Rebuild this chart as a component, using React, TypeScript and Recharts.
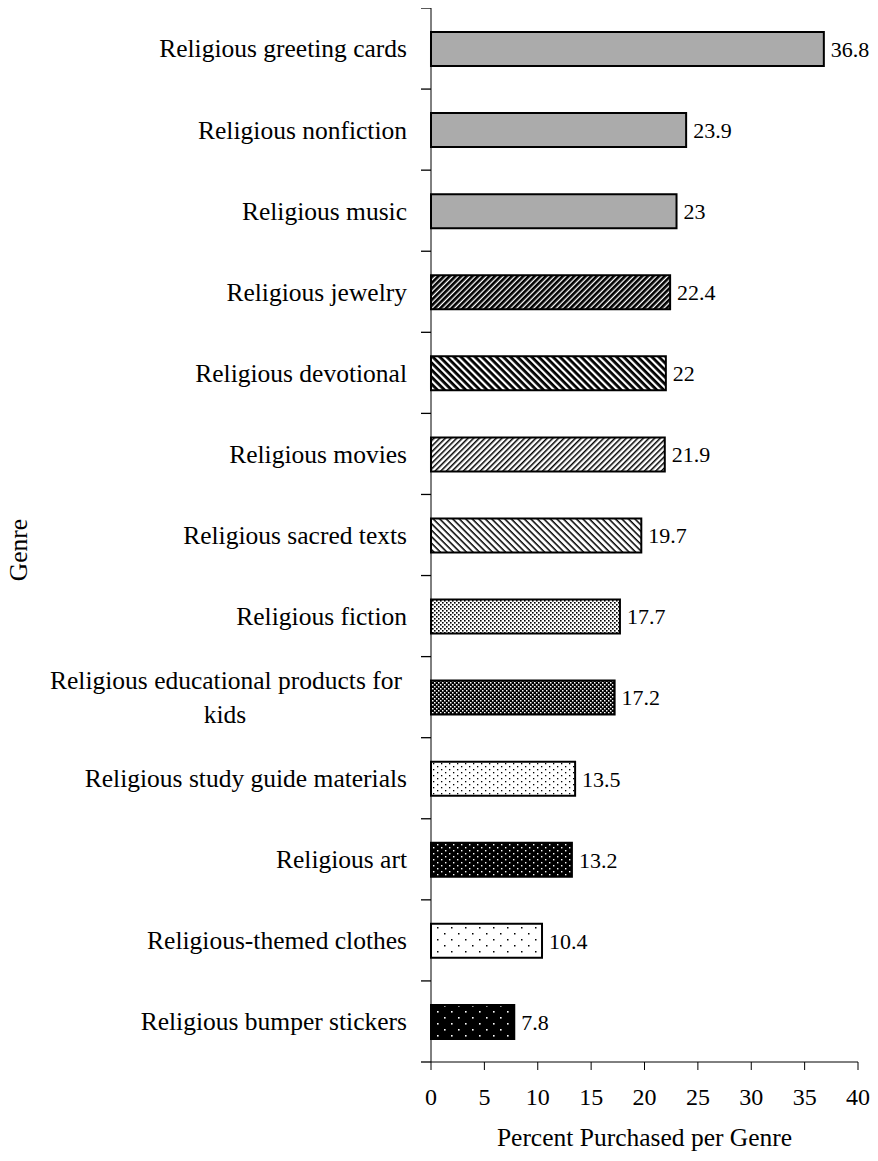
import { Bar, BarChart, Cell, LabelList, XAxis, YAxis } from "recharts"

const genres = [
    'Religious greeting cards',
    'Religious nonfiction',
    'Religious music',
    'Religious jewelry',
    'Religious devotional',
    'Religious movies',
    'Religious sacred texts',
    'Religious fiction',
    'Religious educational products for kids',
    'Religious study guide materials',
    'Religious art',
    'Religious-themed clothes',
    'Religious bumper stickers',
]
const percents = [36.8, 23.9, 23, 22.4, 22, 21.9, 19.7, 17.7, 17.2, 13.5, 13.2, 10.4, 7.8]
const fills = ['gray', 'gray', 'gray', 'jewel', 'devo', 'movie', 'sacred', 'fict', 'edu', 'study', 'art', 'cloth', 'bump']
const xTicks = [0, 5, 10, 15, 20, 25, 30, 35, 40]

const data = genres.map((name, i) => ({ name, value: percents[i], fill: fills[i] }))

const W = 878
const H = 1161
const M = { top: 8, right: 20, left: 0, bottom: 0 }
const Y_W = 431
const X_H = 99
const FONT = '"Liberation Serif", "Times New Roman", serif'
const band = (H - M.top - M.bottom - X_H) / genres.length

function GenreTick(props: any) {
    const { x, y, payload, index } = props
    const words: string = payload.value
    const lines = words === 'Religious educational products for kids'
        ? ['Religious educational products for', 'kids']
        : [words]
    return (
        <g>
            <line x1={x - 10} x2={x} y1={y - band / 2} y2={y - band / 2} stroke="#000" strokeWidth={1.3} />
            {index === genres.length - 1 && (
                <line x1={x - 10} x2={x} y1={y + band / 2} y2={y + band / 2} stroke="#000" strokeWidth={1.3} />
            )}
            {lines.length === 1 ? (
                <text x={x - 24} y={y} dy="0.35em" textAnchor="end" fontFamily={FONT} fontSize={25.5} fill="#000">
                    {lines[0]}
                </text>
            ) : (
                <g>
                    <text x={x - 29} y={y - 17} dy="0.35em" textAnchor="end" fontFamily={FONT} fontSize={25.5} fill="#000">
                        {lines[0]}
                    </text>
                    <text x={225} y={y + 17} dy="0.35em" textAnchor="middle" fontFamily={FONT} fontSize={25.5} fill="#000">
                        {lines[1]}
                    </text>
                </g>
            )}
        </g>
    )
}

export default function App() {
    return (
        <div style={{ margin: -8, background: '#fff', width: W, height: H }}>
            <BarChart width={W} height={H} data={data} layout="vertical" margin={M} style={{ overflow: 'visible' }}>
                <defs>
                    <pattern id="jewel" width="4" height="4" patternUnits="userSpaceOnUse" patternTransform="rotate(-45)">
                        <rect width="4" height="4" fill="#fff" />
                        <rect width="4" height="2.7" fill="#000" />
                    </pattern>
                    <pattern id="devo" width="5" height="5" patternUnits="userSpaceOnUse" patternTransform="rotate(45)">
                        <rect width="5" height="5" fill="#fff" />
                        <rect width="5" height="2.8" fill="#000" />
                    </pattern>
                    <pattern id="movie" width="4" height="4" patternUnits="userSpaceOnUse" patternTransform="rotate(-45)">
                        <rect width="4" height="4" fill="#fff" />
                        <rect width="4" height="1.5" fill="#000" />
                    </pattern>
                    <pattern id="sacred" width="4.6" height="4.6" patternUnits="userSpaceOnUse" patternTransform="rotate(45)">
                        <rect width="4.6" height="4.6" fill="#fff" />
                        <rect width="4.6" height="1.5" fill="#000" />
                    </pattern>
                    <pattern id="fict" width="4" height="4" patternUnits="userSpaceOnUse">
                        <rect width="4" height="4" fill="#fff" />
                        <rect x="0" y="0" width="1.6" height="1.6" fill="#000" />
                        <rect x="2" y="2" width="1.6" height="1.6" fill="#000" />
                    </pattern>
                    <pattern id="edu" width="4" height="4" patternUnits="userSpaceOnUse">
                        <rect width="4" height="4" fill="#000" />
                        <rect x="0" y="0" width="1.5" height="1.5" fill="#fff" />
                        <rect x="2" y="2" width="1.5" height="1.5" fill="#fff" />
                    </pattern>
                    <pattern id="study" width="8" height="6" patternUnits="userSpaceOnUse">
                        <rect width="8" height="6" fill="#fff" />
                        <rect x="1" y="1" width="1.3" height="1.3" fill="#000" />
                        <rect x="5" y="4" width="1.3" height="1.3" fill="#000" />
                    </pattern>
                    <pattern id="art" width="8" height="6" patternUnits="userSpaceOnUse">
                        <rect width="8" height="6" fill="#000" />
                        <rect x="1" y="1" width="1.4" height="1.4" fill="#fff" />
                        <rect x="5" y="4" width="1.4" height="1.4" fill="#fff" />
                    </pattern>
                    <pattern id="cloth" width="14" height="12" patternUnits="userSpaceOnUse">
                        <rect width="14" height="12" fill="#fff" />
                        <rect x="3" y="3" width="1.5" height="1.5" fill="#000" />
                        <rect x="10" y="9" width="1.5" height="1.5" fill="#000" />
                    </pattern>
                    <pattern id="bump" width="14" height="12" patternUnits="userSpaceOnUse">
                        <rect width="14" height="12" fill="#000" />
                        <rect x="3" y="3" width="1.6" height="1.6" fill="#fff" />
                        <rect x="10" y="9" width="1.6" height="1.6" fill="#fff" />
                    </pattern>
                </defs>
                <XAxis
                    type="number"
                    domain={[0, 40]}
                    ticks={xTicks}
                    height={X_H}
                    stroke="#000"
                    tickSize={8}
                    tickMargin={18}
                    tick={{ fill: '#000', fontSize: 24, fontFamily: FONT }}
                    label={{ value: 'Percent Purchased per Genre', position: 'insideBottom', offset: 15, fill: '#000', fontSize: 25.5, fontFamily: FONT }}
                />
                <YAxis
                    type="category"
                    dataKey="name"
                    width={Y_W}
                    stroke="#000"
                    tickLine={false}
                    tickSize={0}
                    tickMargin={0}
                    interval={0}
                    tick={<GenreTick />}
                    label={({ viewBox }: any) => (
                        <text
                            x={18}
                            y={viewBox.y + viewBox.height / 2 + 15}
                            transform={`rotate(-90, 18, ${viewBox.y + viewBox.height / 2 + 15})`}
                            textAnchor="middle"
                            dominantBaseline="central"
                            fontFamily={FONT}
                            fontSize={25.5}
                            fill="#000"
                        >
                            Genre
                        </text>
                    )}
                />
                <Bar dataKey="value" barSize={34} stroke="#000" strokeWidth={2} isAnimationActive={false}>
                    {data.map((d, i) => (
                        <Cell key={`cell-${i}`} fill={d.fill === 'gray' ? '#ababab' : `url(#${d.fill})`} />
                    ))}
                    <LabelList dataKey="value" position="right" offset={7} fill="#000" fontSize={22} fontFamily={FONT} />
                </Bar>
            </BarChart>
        </div>
    )
}
